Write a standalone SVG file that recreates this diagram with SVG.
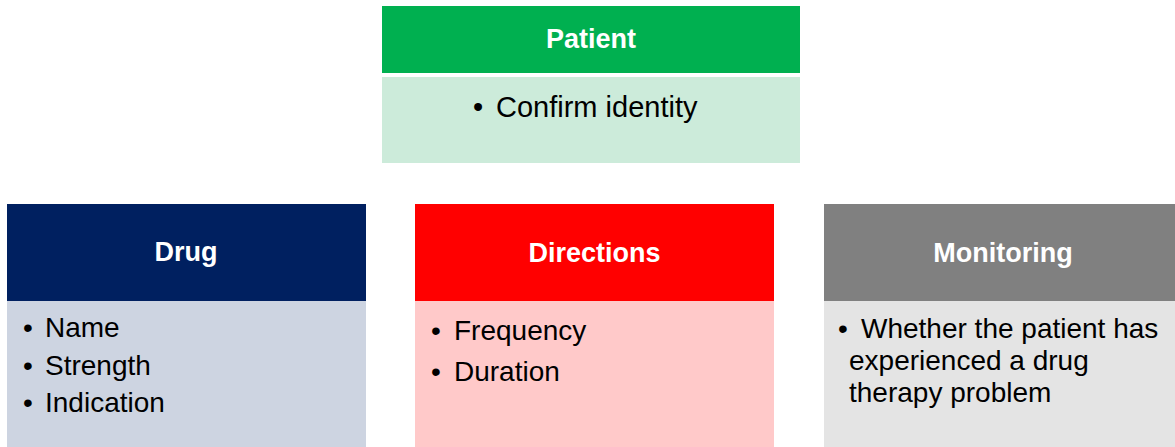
<svg xmlns="http://www.w3.org/2000/svg" width="1175" height="447" viewBox="0 0 1175 447">
<style>
.title{font-family:"Liberation Sans",Arial,sans-serif;font-weight:bold;font-size:27px;fill:#ffffff;text-anchor:middle}
.body{font-family:"Liberation Sans",Arial,sans-serif;font-size:28px;fill:#000000}
</style>
<rect width="1175" height="447" fill="#ffffff"/>
<g id="patient">
<rect x="382" y="6" width="418" height="67" fill="#00B050"/>
<rect x="382" y="77" width="418" height="86" fill="#CCEBDA"/>
<text class="title" x="591" y="48">Patient</text>
<text class="body" y="117" style="font-size:29px"><tspan x="473">•</tspan><tspan x="496">Confirm identity</tspan></text>
</g>
<g id="drug">
<rect x="7" y="204" width="359" height="97" fill="#002060"/>
<rect x="7" y="301" width="359" height="146" fill="#CDD4E1"/>
<text class="title" x="186" y="261">Drug</text>
<text class="body" y="337"><tspan x="23">•</tspan><tspan x="45">Name</tspan></text>
<text class="body" y="375"><tspan x="23">•</tspan><tspan x="45">Strength</tspan></text>
<text class="body" y="412"><tspan x="23">•</tspan><tspan x="45">Indication</tspan></text>
</g>
<g id="directions">
<rect x="415" y="204" width="359" height="97" fill="#FF0000"/>
<rect x="415" y="301" width="359" height="146" fill="#FFC9C9"/>
<text class="title" x="594.5" y="262">Directions</text>
<text class="body" y="340"><tspan x="431">•</tspan><tspan x="454">Frequency</tspan></text>
<text class="body" y="381"><tspan x="431">•</tspan><tspan x="454">Duration</tspan></text>
</g>
<g id="monitoring">
<rect x="824" y="204" width="351" height="97" fill="#808080"/>
<rect x="824" y="301" width="351" height="146" fill="#E4E4E4"/>
<text class="title" x="1003" y="262">Monitoring</text>
<text class="body" y="338"><tspan x="838">•</tspan><tspan x="861">Whether the patient has</tspan></text>
<text class="body" x="849" y="370">experienced a drug</text>
<text class="body" x="849" y="402">therapy problem</text>
</g>
<g id="connectors"></g>
</svg>
